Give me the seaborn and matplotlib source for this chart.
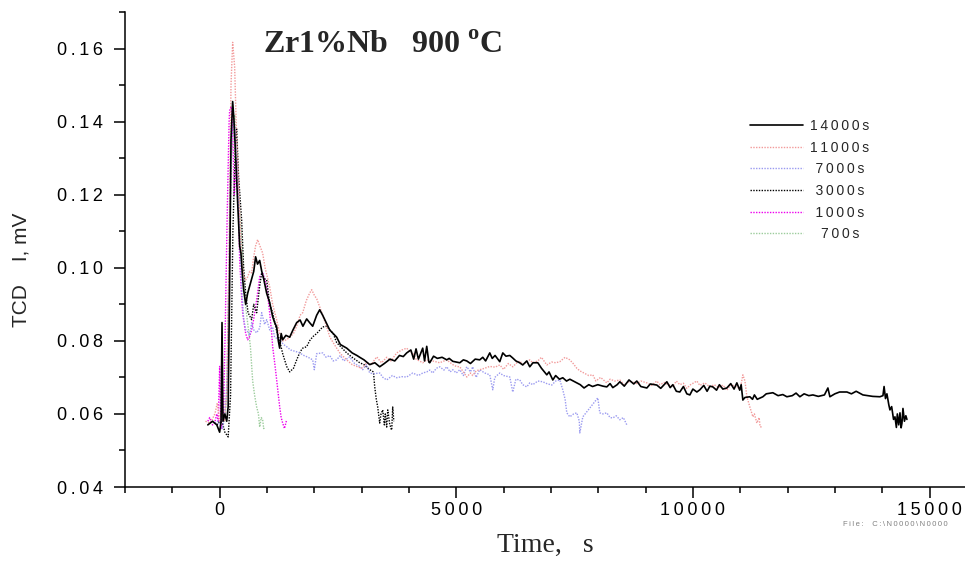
import matplotlib
matplotlib.use("Agg")
import matplotlib.pyplot as plt
import matplotlib.ticker as mticker
import pandas as pd
import seaborn as sns

# runs, as in the legend
runs = ["14000s", "11000s", "7000s", "3000s", "1000s", "700s"]
colors = ["black", "#f29a9a", "#9a9af0", "black", "#ee00ee", "#9ccc9c"]

# (time s, TCD mV)
run_14000 = [(-250, .057), (-150, .058), (-60, .057), (0, .055), (30, .058), (50, .085), (70, .058),
             (110, .060), (150, .058), (180, .062), (210, .095), (240, .135), (275, .1455), (300, .141),
             (340, .130), (380, .118), (423, .106), (450, .104), (486, .097), (507, .094), (550, .090),
             (592, .093), (634, .095), (676, .097), (720, .099), (760, .103), (800, .101), (846, .102),
             (890, .099), (930, .097), (994, .093), (1057, .0905), (1120, .0866), (1163, .085),
             (1205, .0838), (1240, .080), (1268, .078), (1300, .082), (1332, .0803), (1400, .0815),
             (1480, .081), (1550, .083), (1628, .085), (1700, .0857), (1760, .084), (1839, .086),
             (1900, .085), (1966, .084), (2050, .087), (2114, .0885), (2177, .087), (2250, .085),
             (2325, .083), (2400, .082), (2473, .081), (2550, .079), (2685, .078), (2800, .0767),
             (2900, .076), (2960, .0755), (3050, .0748), (3171, .0735), (3280, .074), (3382, .0729),
             (3480, .0738), (3600, .075), (3700, .0745), (3800, .076), (3880, .0757), (3953, .0767),
             (4040, .0775), (4100, .075), (4150, .0778), (4200, .075), (4291, .078), (4330, .0745),
             (4376, .0785), (4420, .0742), (4439, .074), (4520, .0758), (4600, .0752), (4700, .0755),
             (4799, .0748), (4850, .0752), (4926, .0744), (5000, .0742), (5074, .074), (5150, .0748),
             (5222, .0745), (5300, .0738), (5400, .075), (5496, .0748), (5560, .0755), (5620, .0745),
             (5708, .0767), (5760, .0752), (5820, .076), (5919, .0743), (5983, .0767), (6050, .0758),
             (6131, .076), (6194, .0753), (6260, .0745), (6340, .074), (6405, .0734), (6490, .0745),
             (6553, .0729), (6620, .074), (6723, .074), (6800, .0725), (6913, .0707), (6960, .0715),
             (7040, .0693), (7100, .0705), (7180, .0695), (7251, .0699), (7330, .069), (7400, .0695),
             (7547, .0685), (7620, .068), (7700, .0671), (7800, .068), (7880, .0675), (7991, .068),
             (8100, .0676), (8181, .0674), (8250, .0683), (8308, .0672), (8400, .068), (8456, .0688),
             (8550, .0676), (8650, .0693), (8750, .0682), (8815, .069), (8900, .0675), (9027, .0671),
             (9100, .0682), (9238, .0679), (9320, .067), (9450, .0688), (9520, .0672), (9576, .068),
             (9650, .0662), (9724, .066), (9800, .0675), (9872, .0655), (9936, .0652), (10000, .0668),
             (10084, .066), (10147, .0666), (10230, .0678), (10300, .0662), (10359, .0676),
             (10422, .0674), (10500, .0665), (10560, .068), (10633, .0668), (10718, .0671),
             (10800, .0683), (10870, .0668), (10929, .0685), (10990, .0665), (11020, .068),
             (11056, .0638), (11100, .0645), (11204, .0647), (11260, .064), (11300, .0652),
             (11360, .064), (11479, .0647), (11550, .0655), (11690, .0658), (11800, .065),
             (11900, .0653), (11986, .0647), (12100, .065), (12180, .0657), (12261, .0647),
             (12350, .0655), (12450, .065), (12536, .0652), (12650, .0648), (12780, .0652),
             (12853, .0671), (12895, .0647), (13000, .0655), (13100, .066), (13255, .066),
             (13350, .0655), (13450, .0662), (13593, .0652), (13700, .065), (13800, .0648),
             (13952, .0647), (14016, .065), (14040, .0675), (14070, .0642), (14100, .0655),
             (14140, .0625), (14164, .0611), (14200, .062), (14240, .0585), (14270, .0592),
             (14300, .0563), (14320, .06), (14350, .057), (14376, .0603), (14400, .0562),
             (14418, .0575), (14439, .0615), (14470, .058), (14500, .0595), (14523, .0585)]

run_11000 = [(-300, .058), (-200, .0575), (-100, .060), (-50, .063), (0, .058), (50, .062), (100, .058),
             (150, .066), (200, .105), (240, .150), (275, .1617), (317, .155), (359, .135), (381, .1296),
             (423, .115), (465, .102), (507, .098), (550, .0967), (592, .0975), (634, .099), (676, .0986),
             (720, .103), (760, .106), (803, .1077), (850, .106), (909, .104), (960, .100), (1057, .0948),
             (1120, .090), (1205, .0857), (1268, .082), (1332, .080), (1416, .0803), (1480, .081),
             (1560, .082), (1628, .084), (1700, .087), (1755, .0877), (1830, .091), (1900, .093),
             (1945, .094), (2000, .0925), (2051, .0915), (2114, .0893), (2177, .087), (2262, .0838),
             (2330, .081), (2400, .0795), (2473, .078), (2550, .0765), (2685, .0748), (2800, .0735),
             (2896, .073), (3000, .0725), (3108, .074), (3200, .0735), (3319, .0756), (3420, .074),
             (3530, .0755), (3620, .0745), (3742, .0767), (3850, .0775), (3953, .078), (4020, .077),
             (4080, .0767), (4150, .075), (4291, .074), (4376, .0748), (4503, .0745), (4650, .074),
             (4799, .0748), (4926, .0735), (5000, .073), (5074, .0729), (5150, .0715), (5222, .0701),
             (5300, .0712), (5348, .0705), (5420, .0718), (5496, .0721), (5600, .0725), (5708, .073),
             (5820, .0728), (5919, .0734), (6000, .0722), (6100, .0738), (6194, .0729), (6280, .074),
             (6342, .0745), (6405, .0735), (6490, .0742), (6553, .0748), (6617, .074), (6723, .0745),
             (6800, .0755), (6913, .0734), (7018, .0742), (7100, .074), (7188, .0743), (7300, .0755),
             (7399, .0748), (7470, .0738), (7547, .0725), (7610, .0718), (7700, .0712), (7800, .0705),
             (7885, .0707), (7950, .069), (8050, .070), (8181, .0685), (8250, .0695), (8350, .069),
             (8456, .0693), (8550, .068), (8650, .0688), (8731, .0688), (8815, .0683), (8900, .069),
             (9027, .0685), (9130, .0678), (9238, .069), (9302, .068), (9400, .0686), (9450, .0682),
             (9576, .0675), (9650, .069), (9724, .068), (9800, .0684), (9872, .067), (9950, .068),
             (10084, .069), (10147, .0678), (10250, .0685), (10359, .0674), (10450, .068),
             (10550, .0672), (10633, .0679), (10718, .0665), (10800, .068), (10929, .0674),
             (11000, .0668), (11056, .0707), (11100, .069), (11141, .0647), (11204, .0619),
             (11268, .0592), (11300, .060), (11352, .0575), (11400, .059), (11420, .0565),
             (11458, .0564)]

run_7000 = [(-150, .058), (-80, .0575), (-40, .058), (0, .057), (60, .056), (110, .060), (160, .070),
            (210, .110), (250, .135), (296, .140), (330, .138), (381, .125), (423, .108), (465, .095),
            (507, .086), (550, .083), (592, .0825), (634, .0815), (676, .085), (720, .083), (782, .0822),
            (846, .0835), (888, .0877), (950, .0845), (994, .0858), (1057, .083), (1120, .0838),
            (1160, .081), (1268, .0803), (1350, .079), (1416, .0784), (1500, .0775), (1628, .077),
            (1691, .0767), (1780, .076), (1870, .0755), (1966, .0748), (2000, .0721), (2051, .0765),
            (2177, .0767), (2250, .0755), (2325, .076), (2400, .0745), (2473, .0748), (2550, .076),
            (2620, .0745), (2748, .0756), (2850, .0738), (2960, .073), (3023, .0721), (3100, .0735),
            (3171, .0712), (3250, .071), (3382, .0712), (3450, .070), (3530, .0693), (3650, .0705),
            (3742, .0699), (3850, .0702), (3953, .0701), (4080, .0712), (4200, .0705), (4291, .0712),
            (4376, .0715), (4439, .072), (4503, .0712), (4580, .0725), (4651, .0729), (4740, .072),
            (4799, .0729), (4870, .0715), (4926, .0721), (5000, .0712), (5074, .0721), (5150, .0705),
            (5222, .0729), (5300, .0715), (5348, .0729), (5420, .070), (5496, .0721), (5600, .0712),
            (5708, .0707), (5771, .0666), (5814, .070), (5919, .0712), (6000, .0705), (6131, .0701),
            (6194, .066), (6260, .0695), (6342, .0693), (6405, .068), (6490, .0674), (6553, .0685),
            (6617, .068), (6723, .069), (6828, .0688), (6913, .0683), (7018, .0679), (7100, .069),
            (7188, .0693), (7251, .0666), (7300, .064), (7336, .0603), (7399, .0592), (7480, .060),
            (7547, .0603), (7600, .058), (7610, .0548), (7674, .0592), (7991, .0644), (8033, .0603),
            (8100, .060), (8181, .0603), (8250, .059), (8308, .0589), (8380, .0595), (8456, .0584),
            (8530, .059), (8604, .057)]

run_3000 = [(-60, .057), (0, .058), (60, .0575), (110, .055), (180, .0537), (230, .065), (280, .110),
            (330, .133), (359, .138), (400, .125), (465, .113), (507, .100), (550, .093), (600, .0877),
            (676, .0858), (720, .090), (782, .0877), (846, .095), (888, .0986), (940, .097),
            (994, .0967), (1057, .090), (1120, .0877), (1200, .083), (1268, .080), (1332, .0765),
            (1416, .073), (1480, .0715), (1560, .0725), (1628, .0748), (1700, .077), (1755, .078),
            (1839, .0784), (1900, .080), (1966, .0811), (2050, .082), (2177, .0838), (2262, .084),
            (2325, .083), (2400, .082), (2473, .0795), (2550, .0785), (2685, .0767), (2800, .0755),
            (2960, .074), (3050, .0735), (3171, .0721), (3250, .0715), (3277, .0674), (3310, .064),
            (3340, .0619), (3382, .0575), (3410, .060), (3446, .0611), (3480, .057), (3500, .060),
            (3530, .0564), (3552, .0611), (3590, .0575), (3620, .056), (3636, .0556), (3657, .0619),
            (3680, .058)]

run_1000 = [(-250, .058), (-211, .059), (-150, .057), (-106, .0575), (-60, .060), (-30, .058),
            (0, .073), (20, .060), (42, .056), (80, .058), (120, .085), (160, .115), (200, .140),
            (211, .143), (240, .1441), (270, .140), (310, .120), (359, .1296), (400, .115),
            (423, .1022), (465, .092), (486, .0877), (550, .082), (592, .0803), (634, .0812),
            (676, .083), (720, .086), (782, .0912), (846, .0975), (909, .0986), (950, .097),
            (994, .0948), (1057, .0877), (1100, .082), (1120, .0784), (1163, .074), (1205, .0693),
            (1268, .062), (1300, .059), (1332, .0575), (1370, .056), (1416, .0584)]

run_700 = [(0, .058), (60, .057), (106, .058), (150, .065), (200, .100), (250, .130), (317, .1419),
           (359, .135), (400, .120), (450, .110), (486, .1022), (520, .095), (550, .0893), (600, .084),
           (650, .0784), (698, .069), (740, .065), (782, .0619), (820, .060), (846, .0564),
           (880, .059), (909, .0584), (930, .056), (951, .0564)]

series = [run_14000, run_11000, run_7000, run_3000, run_1000, run_700]

sns.set_style("ticks")
plt.rcParams["font.family"] = ["Liberation Sans", "DejaVu Sans"]
plt.rcParams["mathtext.fontset"] = "custom"
plt.rcParams["mathtext.rm"] = "Liberation Serif"
plt.rcParams["mathtext.bf"] = "Liberation Serif:bold"


def spaced(s):
    # the original tick labels are set with wide letter spacing
    return "\u2009".join(s)


def legend_label(s):
    # legend labels are centred in the original, pad the shorter ones
    return "\u2009\u2009" * (6 - len(s)) + spaced(s)


fig = plt.figure(figsize=(9.65, 5.72), dpi=100)
ax = fig.add_axes([125 / 965, 1 - 487 / 572, 1 - 125 / 965, 475 / 572])

for k, (name, pts) in enumerate(zip(runs, series)):
    df = pd.DataFrame(pts, columns=["t", "v"])
    if k == 0:
        sns.lineplot(data=df, x="t", y="v", ax=ax, color=colors[k], lw=1.2,
                     sort=False, estimator=None, label=legend_label(name), zorder=10)
    else:
        sns.lineplot(data=df, x="t", y="v", ax=ax, color=colors[k], lw=1.0,
                     linestyle=(0, (1, 1)), sort=False, estimator=None,
                     label=legend_label(name), zorder=5 - k)

ax.set_xlim(-2000, 15750)
ax.set_ylim(0.04, 0.170)
ax.xaxis.set_major_locator(mticker.MultipleLocator(5000))
ax.xaxis.set_minor_locator(mticker.MultipleLocator(1000))
ax.yaxis.set_major_locator(mticker.MultipleLocator(0.02))
ax.yaxis.set_minor_locator(mticker.MultipleLocator(0.01))
ax.xaxis.set_major_formatter(mticker.FuncFormatter(lambda v, p: spaced(f"{v:.0f}")))
ax.yaxis.set_major_formatter(mticker.FuncFormatter(lambda v, p: spaced(f"{v:.2f}")))
ax.tick_params(which="major", direction="out", length=8, width=1.1, labelsize=13,
               colors="black")
ax.tick_params(which="minor", direction="out", length=4.5, width=1.1, colors="black")
ax.tick_params(axis="y", which="major", pad=8)
ax.tick_params(axis="x", which="major", pad=3)
for s in ["left", "bottom"]:
    ax.spines[s].set_linewidth(1.1)
    ax.spines[s].set_color("black")
sns.despine(ax=ax)

ax.set_xlabel("Time,   s", family="Liberation Serif", fontsize=20, labelpad=10)
ax.set_ylabel("TCD    I, mV", fontsize=15)
ax.yaxis.set_label_coords(-0.113, 0.457)

fig.text(263 / 965, 1 - 53 / 572, r"Zr1%Nb   900 $^{\mathbf{o}}$C", family="Liberation Serif",
         weight="bold", fontsize=23, ha="left", va="baseline")

ax.legend(loc="upper left", bbox_to_anchor=(750 / 965, 1 - 119 / 572),
          bbox_transform=fig.transFigure, frameon=False, fontsize=10,
          handlelength=3.8, handletextpad=0.5, labelspacing=0.55, borderpad=0,
          borderaxespad=0)

fig.text(843 / 965, 1 - 526 / 572, spaced("File:  C:\\N0000\\N0000"), fontsize=5.5,
         color="gray")

fig.savefig("out.png", dpi=100)
